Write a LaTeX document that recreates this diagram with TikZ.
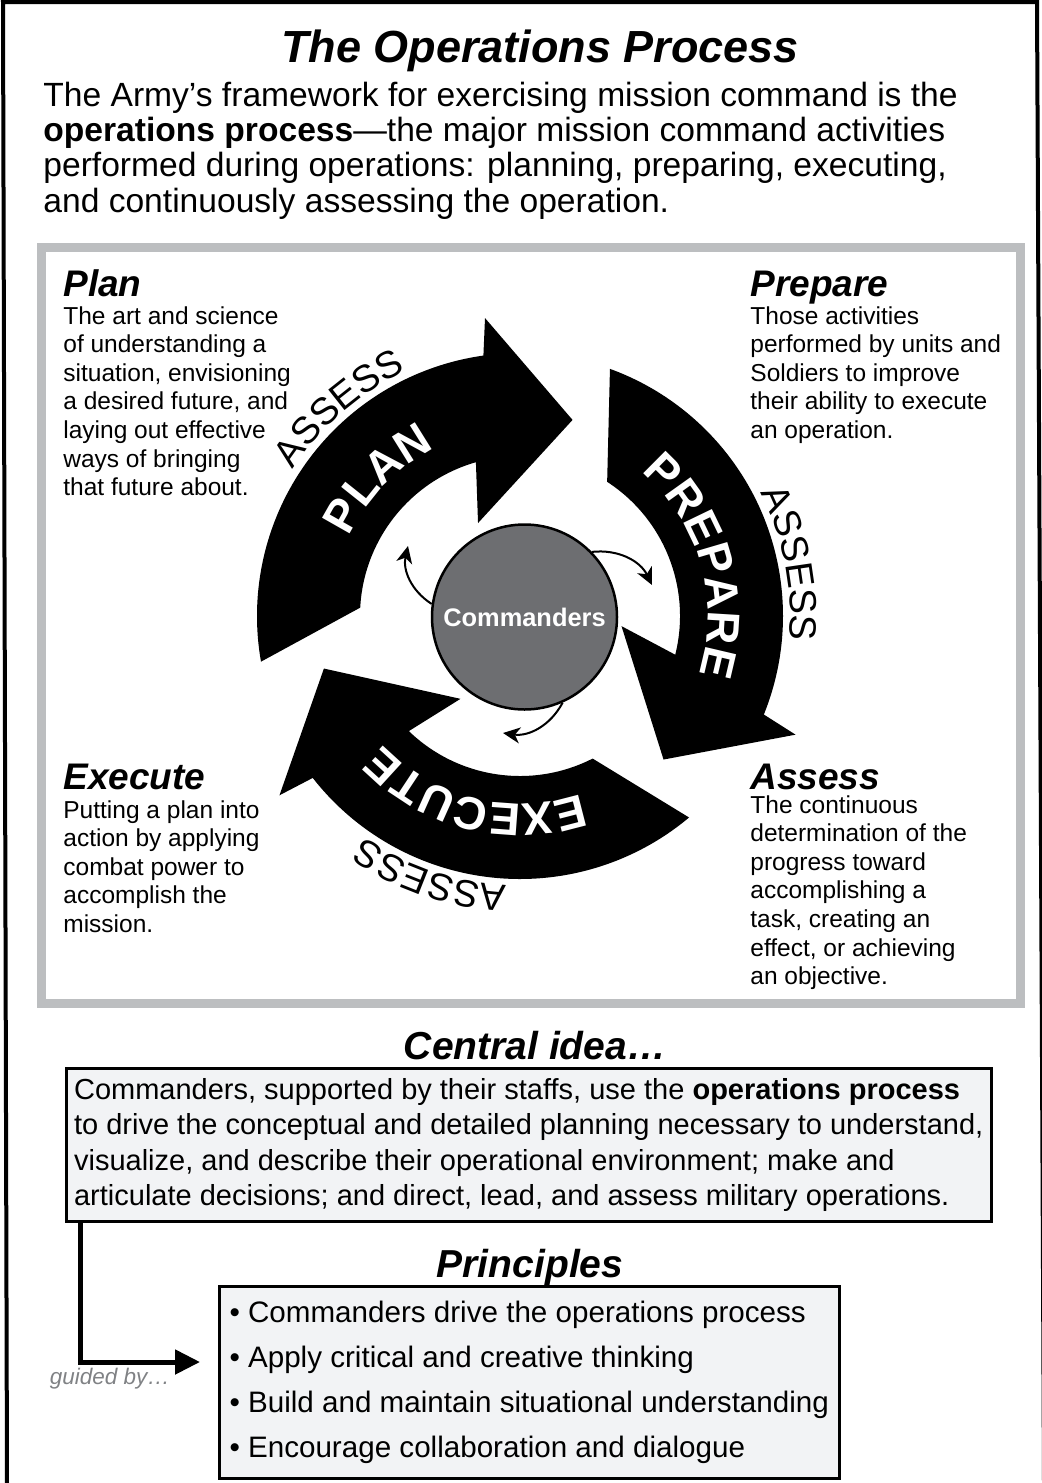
\documentclass[tikz,border=0pt]{standalone}
\usepackage{fontspec}
\setmainfont{Liberation Sans}
\usetikzlibrary{arrows.meta,decorations.text}

\definecolor{frameGrey}{HTML}{BCBEC0}
\definecolor{boxGrey}{HTML}{F2F3F5}
\definecolor{hubGrey}{HTML}{6D6E71}
\definecolor{noteGrey}{HTML}{808285}

\def \ringCenterX{520}
\def \ringCenterY{-616}
\def \ringInner{160}
\def \ringOuter{263}
\def \wordRadius{188}
\def \assessRadius{270}
\def \hubCenterX{524.5}
\def \hubCenterY{-617}
\def \leftColX{63}
\def \rightColX{750}
\def \topHeadY{-296}
\def \lowHeadY{-789}

\newcommand\wordfont{\fontsize{23}{23}\selectfont\bfseries}
\newcommand\assessfont{\fontsize{19}{19}\selectfont}

\tikzset{
  titletext/.style={anchor=base, inner sep=0, font=\fontsize{22.5}{22.5}\selectfont\bfseries\itshape},
  introtext/.style={anchor=north west, inner sep=0, align=left, font=\fontsize{16.8}{17.65}\selectfont},
  headtext/.style={anchor=base west, inner sep=0, font=\fontsize{18.5}{18.5}\selectfont\bfseries\itshape},
  blurbtext/.style={anchor=north west, inner sep=0, align=left, font=\fontsize{12.25}{14.3}\selectfont},
  hubnode/.style={circle, draw=black, line width=1.25pt, fill=hubGrey, minimum size=92.5pt, inner sep=0, text=white, font=\fontsize{12.7}{12.7}\selectfont\bfseries},
  cyclearrow/.style={line width=1pt, -{Stealth[length=8.5pt, width=8pt, inset=2.5pt]}},
  sectiontext/.style={anchor=base, inner sep=0, font=\fontsize{19.5}{19.5}\selectfont\bfseries\itshape},
  ideabox/.style={draw=black, line width=1.25pt, fill=boxGrey, anchor=north west, align=left, inner sep=0, font=\fontsize{14.8}{17.75}\selectfont},
  guidearrow/.style={line width=2.5pt, -{Triangle[length=12.5pt, width=12pt]}},
  guidenote/.style={inner sep=0, text=noteGrey, font=\fontsize{11.25}{11.25}\selectfont\itshape},
}

\begin{document}
\begin{tikzpicture}[x=0.5pt, y=0.5pt]
\useasboundingbox (0,0) rectangle (1041,-1483);
% ---- Page frame
\draw[line width=2pt] (7,-1483) -- (3,-2) -- (1037,-2) -- (1044,-1483);

% ---- Title and intro
\node[titletext] (title) at (540,-62) {The Operations Process};
\node[introtext] (intro) at (43,-81.5) {The Army’s framework for exercising mission command is the\\
\textbf{operations process}—the major mission command activities\\
performed during operations: planning, preparing, executing,\\
and continuously assessing the operation.};

% ---- Grey panel
\draw[frameGrey, line width=4.5pt] (41,-247) rectangle (1020,-1003);

% ---- Plan
\node[headtext] (planhead) at (\leftColX,\topHeadY) {Plan};
\node[blurbtext] (planblurb) at (\leftColX,-306) {The art and science\\
of understanding a\\
situation, envisioning\\
a desired future, and\\
laying out effective\\
ways of bringing\\
that future about.};
% ---- Prepare
\node[headtext] (prephead) at (\rightColX,\topHeadY) {Prepare};
\node[blurbtext] (prepblurb) at (\rightColX,-306) {Those activities\\
performed by units and\\
Soldiers to improve\\
their ability to execute\\
an operation.};
% ---- Execute
\node[headtext] (exechead) at (\leftColX,\lowHeadY) {Execute};
\node[blurbtext] (execblurb) at (\leftColX,-800) {Putting a plan into\\
action by applying\\
combat power to\\
accomplish the\\
mission.};
% ---- Assess
\node[headtext] (asshead) at (\rightColX,\lowHeadY) {Assess};
\node[blurbtext] (assblurb) at (\rightColX,-795) {The continuous\\
determination of the\\
progress toward\\
accomplishing a\\
task, creating an\\
effect, or achieving\\
an objective.};

% ---- Cycle arrows, one copy turned for each activity
\foreach \rot/\word in {0/PLAN, -120/PREPARE, -240/EXECUTE} {
  \begin{scope}[shift={(\ringCenterX,\ringCenterY)}, rotate=\rot]
    \fill[black] (190:\ringOuter) arc[start angle=190, end angle=98, radius=\ringOuter]
      -- (96.7:300) -- (75:203) -- (114.3:102) -- (106:\ringInner)
      arc[start angle=106, end angle=177, radius=\ringInner] -- cycle;
    \path[decorate, decoration={text along path, text align=center, text color=white,
        text/.expanded={|\noexpand\wordfont|\word}}]
      (186:\wordRadius) arc[start angle=186, end angle=86, radius=\wordRadius];
    \path[decorate, decoration={text along path, text align=center,
        text={|\assessfont|ASSESS}}]
      (171:\assessRadius) arc[start angle=171, end angle=91, radius=\assessRadius];
  \end{scope}
}

% ---- Commanders
\node[hubnode] (cmd) at (\hubCenterX,\hubCenterY) {Commanders};
\coordinate (toplan) at (408,-546);
\coordinate (toprep) at (652,-585);
\coordinate (toexec) at (503,-733);
\draw[cyclearrow] (cmd.172) to[bend left=35] (toplan);
\draw[cyclearrow] (cmd.44) to[bend left=35] (toprep);
\draw[cyclearrow] (cmd.-66) to[bend left=35] (toexec);

% ---- Central idea
\node[sectiontext] (ideahead) at (535,-1059) {Central idea…};
\node[ideabox, minimum width=462.5pt, minimum height=76.5pt, font=\fontsize{14.5}{17.75}\selectfont] (idea) at (65,-1067) {Commanders, supported by their staffs, use the \textbf{operations process}\\
to drive the conceptual and detailed planning necessary to understand,\\
visualize, and describe their operational environment; make and\\
articulate decisions; and direct, lead, and assess military operations.};

% ---- Principles
\node[sectiontext] (princhead) at (530,-1277) {Principles};
\node[ideabox, minimum width=310pt, minimum height=96pt, font=\fontsize{14.8}{22.5}\selectfont] (princ) at (218,-1285) {• Commanders drive the operations process\\
• Apply critical and creative thinking\\
• Build and maintain situational understanding\\
• Encourage collaboration and dialogue};

% ---- Guided by
\coordinate (guideturn) at (80,-1362);
\coordinate (guideend) at (200,-1362);
\draw[guidearrow] (idea.south -| guideturn) -- (guideturn) -- (guideend);
\node[guidenote] (guidenote) at (110,-1379) {guided by…};
\end{tikzpicture}
\end{document}
